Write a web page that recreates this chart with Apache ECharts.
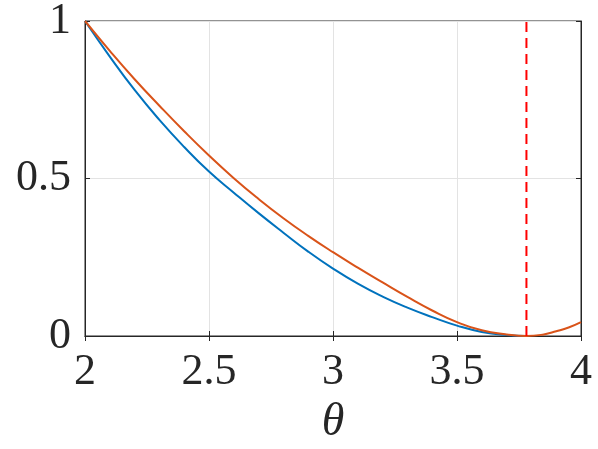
<!DOCTYPE html>
<html>
<head>
<meta charset="utf-8">
<script src="https://cdn.jsdelivr.net/npm/echarts@6/dist/echarts.min.js"></script>
<style>
html,body{margin:0;padding:0;background:#fff;}
#chart{width:598px;height:449px;}
</style>
</head>
<body>
<div id="chart"></div>
<script>
// Data
const blueTheta = [2.0, 2.1, 2.2, 2.3, 2.4, 2.5, 2.6, 2.7, 2.8, 2.9, 3.0, 3.1, 3.2, 3.3, 3.4, 3.5, 3.6, 3.7, 3.78];
const blueVals  = [1.0, 0.887, 0.781, 0.686, 0.600, 0.522, 0.455, 0.390, 0.328, 0.268, 0.214, 0.166, 0.125, 0.090, 0.060, 0.033, 0.013, 0.003, 0.0];
const orangeTheta = [2.0, 2.1, 2.2, 2.3, 2.4, 2.5, 2.6, 2.7, 2.8, 2.9, 3.0, 3.1, 3.2, 3.3, 3.4, 3.5, 3.6, 3.7, 3.78, 3.85, 3.9, 3.95, 4.0];
const orangeVals  = [1.0, 0.905, 0.815, 0.731, 0.650, 0.573, 0.501, 0.435, 0.374, 0.318, 0.266, 0.217, 0.170, 0.124, 0.081, 0.044, 0.018, 0.005, 0.0, 0.005, 0.015, 0.027, 0.044];
const markerTheta = 3.78;
const markerY = [0, 1];
const xTicks = [2, 2.5, 3, 3.5, 4];
const yTicks = [0, 0.5, 1];
const xLabel = 'θ';

const pairs = (xs, ys) => xs.map((x, i) => [x, ys[i]]);
const font = 'Liberation Serif';
const axisColor = '#262626';

const chart = echarts.init(document.getElementById('chart'));
chart.setOption({
  animation: false,
  grid: {left: 85, right: 17, top: 21, bottom: 113, containLabel: false, outerBoundsMode: 'none',
         show: true, borderColor: axisColor, borderWidth: 1},
  xAxis: [{
    type: 'value', min: xTicks[0], max: xTicks[xTicks.length - 1], interval: 0.5,
    axisLine: {show: true, onZero: false, lineStyle: {color: axisColor}},
    axisTick: {show: true, inside: true, length: 5, lineStyle: {color: axisColor}},
    axisLabel: {color: '#262626', fontFamily: font, fontSize: 44, margin: 14},
    splitLine: {show: true, lineStyle: {color: '#e3e3e3', width: 1}},
    name: xLabel, nameLocation: 'middle', nameGap: 64,
    nameTextStyle: {color: '#262626', fontFamily: font, fontStyle: 'italic', fontSize: 46}
  }, {
    type: 'value', position: 'top', min: xTicks[0], max: xTicks[xTicks.length - 1], interval: 0.5,
    axisLine: {show: true, lineStyle: {color: axisColor}},
    axisTick: {show: true, inside: true, length: 5, lineStyle: {color: axisColor}},
    axisLabel: {show: false}, splitLine: {show: false}
  }],
  yAxis: [{
    type: 'value', min: yTicks[0], max: yTicks[yTicks.length - 1], interval: 0.5,
    axisLine: {show: true, onZero: false, lineStyle: {color: axisColor}},
    axisTick: {show: true, inside: true, length: 5, lineStyle: {color: axisColor}},
    axisLabel: {color: '#262626', fontFamily: font, fontSize: 44, margin: 14},
    splitLine: {show: true, lineStyle: {color: '#e3e3e3', width: 1}}
  }, {
    type: 'value', position: 'right', min: yTicks[0], max: yTicks[yTicks.length - 1], interval: 0.5,
    axisLine: {show: true, lineStyle: {color: axisColor}},
    axisTick: {show: true, inside: true, length: 5, lineStyle: {color: axisColor}},
    axisLabel: {show: false}, splitLine: {show: false}
  }],
  series: [{
    type: 'line', data: pairs(blueTheta, blueVals), smooth: 0.5, symbol: 'none',
    lineStyle: {color: '#0072BD', width: 2}
  }, {
    type: 'line', data: pairs(orangeTheta, orangeVals), smooth: 0.5, symbol: 'none',
    lineStyle: {color: '#D95319', width: 2}
  }, {
    type: 'line', data: markerY.map(y => [markerTheta, y]), symbol: 'none',
    lineStyle: {color: '#ff0000', width: 2, type: [10, 6]}
  }]
});
</script>
</body>
</html>
